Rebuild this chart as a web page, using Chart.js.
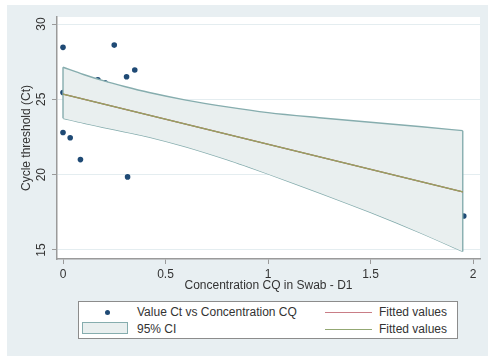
<!DOCTYPE html>
<html><head><meta charset="utf-8">
<script src="https://cdn.jsdelivr.net/npm/chart.js@4"></script>
<style>
html,body{margin:0;padding:0;background:#fff;}
#wrap{position:relative;width:488px;height:356px;overflow:hidden;}
canvas{position:absolute;left:0;top:0;}
#legend{position:absolute;left:78px;top:301px;width:378px;height:36px;border:1px solid #8c8c8c;background:#fff;font:12px "Liberation Sans",Arial,sans-serif;color:#333;}
.it{position:absolute;white-space:nowrap;line-height:14px;}
.dot{position:absolute;width:5px;height:5px;border-radius:50%;background:#1f4a75;}
.sw{position:absolute;width:44px;height:10px;border:1px solid #86adae;background:#e9efef;}
.ln{position:absolute;width:47px;height:0;border-top:1px solid;}
</style></head>
<body><div id="wrap"><canvas id="c" width="488" height="356"></canvas><div id="legend"></div></div>
<script>
// ---- data ----
const ptX = [0, 0.25, 0.31, 0.35, 0.17, 0.205, 0, 0, 0.035, 0.085, 0.315, 1.955];
const ptY = [28.45, 28.6, 26.5, 26.95, 26.3, 26.1, 25.45, 22.8, 22.45, 21.0, 19.85, 17.25];
const fitX = [0, 1.95];
const fitY = [25.35, 18.85];
const ciX  = [0, 0.1, 0.2, 0.3, 0.42, 0.6, 0.8, 1.0, 1.25, 1.5, 1.75, 1.95];
const ciHi = [27.13, 26.65, 26.22, 25.85, 25.45, 24.95, 24.5, 24.12, 23.78, 23.48, 23.18, 22.92];
const ciLo = [23.74, 23.42, 23.13, 22.85, 22.5, 21.85, 21.0, 20.05, 18.8, 17.5, 16.1, 14.9];
const xTicks = [0, 0.5, 1, 1.5, 2];
const yTicks = [15, 20, 25, 30];
const xTitle = 'Concentration CQ in Swab - D1';
const yTitle = 'Cycle threshold (Ct)';
const legendLabels = ['Value Ct vs Concentration CQ', '95% CI', 'Fitted values', 'Fitted values'];

// ---- build ----
const pts = ptX.map((x, i) => ({x, y: ptY[i]}));
const fit = fitX.map((x, i) => ({x, y: fitY[i]}));
const upper = ciX.map((x, i) => ({x, y: ciHi[i]}));
const lower = ciX.map((x, i) => ({x, y: ciLo[i]}));
const n = ciX.length - 1;
const edgeL = [{x: ciX[0], y: ciHi[0]}, {x: ciX[0], y: ciLo[0]}];
const edgeR = [{x: ciX[n], y: ciHi[n]}, {x: ciX[n], y: ciLo[n]}];

const FONT = {family: '"Liberation Sans", Arial, sans-serif', size: 12};
const AX = '#9a9a9a';
const CIB = '#86adae';

const bg = {
  id: 'bg',
  beforeDraw(chart) {
    const c = chart.ctx, a = chart.chartArea;
    c.save();
    c.fillStyle = '#fff'; c.fillRect(0, 0, chart.width, chart.height);
    c.fillStyle = '#e8eff2'; c.fillRect(7, 5, chart.width - 7, chart.height - 5);
    c.fillStyle = '#fff'; c.fillRect(a.left, a.top, a.right - a.left, a.bottom - a.top);
    c.restore();
  }
};

new Chart(document.getElementById('c'), {
  type: 'scatter',
  data: {datasets: [
    {label: legendLabels[3], data: fit, showLine: true, borderColor: '#93a563', borderWidth: 1.3, pointRadius: 0, fill: false},
    {label: legendLabels[2], data: fit, showLine: true, borderColor: '#b54a55', borderWidth: 1.3, pointRadius: 0, fill: false},
    {label: 'ci-edge-left', data: edgeL, showLine: true, borderColor: CIB, borderWidth: 1.4, pointRadius: 0, fill: false},
    {label: 'ci-edge-right', data: edgeR, showLine: true, borderColor: CIB, borderWidth: 1.4, pointRadius: 0, fill: false},
    {label: legendLabels[1], data: upper, showLine: true, borderColor: CIB, borderWidth: 1.4, pointRadius: 0, backgroundColor: '#e9efef', fill: '+1', cubicInterpolationMode: 'monotone'},
    {label: 'ci-lower', data: lower, showLine: true, borderColor: CIB, borderWidth: 1.4, pointRadius: 0, fill: false, cubicInterpolationMode: 'monotone'},
    {label: legendLabels[0], data: pts, showLine: false, pointRadius: 2.8, pointStyle: 'circle', backgroundColor: '#1f4a75', borderColor: '#1f4a75', borderWidth: 0}
  ]},
  options: {
    responsive: false, animation: false, devicePixelRatio: 1,
    layout: {padding: {top: 17, right: 8, left: 0, bottom: 0}},
    plugins: {legend: {display: false}, tooltip: {enabled: false}},
    scales: {
      x: {
        type: 'linear', min: -0.0293, max: 2.0341,
        afterBuildTicks: s => { s.ticks = xTicks.map(v => ({value: v})); },
        afterFit: s => { s.height = 97; },
        grid: {drawOnChartArea: false, drawTicks: true, tickLength: 5, tickColor: AX, tickWidth: 1},
        border: {color: AX, width: 1.5},
        ticks: {font: FONT, color: '#333', padding: 3, maxRotation: 0, minRotation: 0, callback: v => String(v)},
        title: {display: true, text: xTitle, font: FONT, color: '#333', padding: {top: 0, bottom: 63}}
      },
      y: {
        type: 'linear', min: 14.40, max: 30.465,
        afterBuildTicks: s => { s.ticks = yTicks.map(v => ({value: v})); },
        afterFit: s => { s.width = 57; },
        grid: {color: '#e4edf0', lineWidth: 1, drawTicks: true, tickLength: 5, tickColor: AX, tickWidth: 1},
        border: {color: AX, width: 1.5},
        ticks: {font: FONT, color: '#333', padding: 4, minRotation: 90, maxRotation: 90, crossAlign: 'center', callback: v => String(v)},
        title: {display: true, text: yTitle, font: FONT, color: '#333', padding: {top: 19, bottom: 0}}
      }
    }
  },
  plugins: [bg]
});

// ---- legend (HTML text) ----
const L = document.getElementById('legend');
L.innerHTML =
  '<div class="dot" style="left:26px;top:8px"></div>' +
  '<div class="it" style="left:58px;top:3px"></div>' +
  '<div class="sw" style="left:3px;top:20px"></div>' +
  '<div class="it" style="left:58px;top:20px"></div>' +
  '<div class="ln" style="left:246px;top:10px;border-color:#c97d86"></div>' +
  '<div class="it" style="left:300px;top:3px"></div>' +
  '<div class="ln" style="left:246px;top:27px;border-color:#93a873"></div>' +
  '<div class="it" style="left:300px;top:20px"></div>';
const its = L.querySelectorAll('.it');
its[0].textContent = legendLabels[0];
its[1].textContent = legendLabels[1];
its[2].textContent = legendLabels[2];
its[3].textContent = legendLabels[3];
</script>
</body></html>
